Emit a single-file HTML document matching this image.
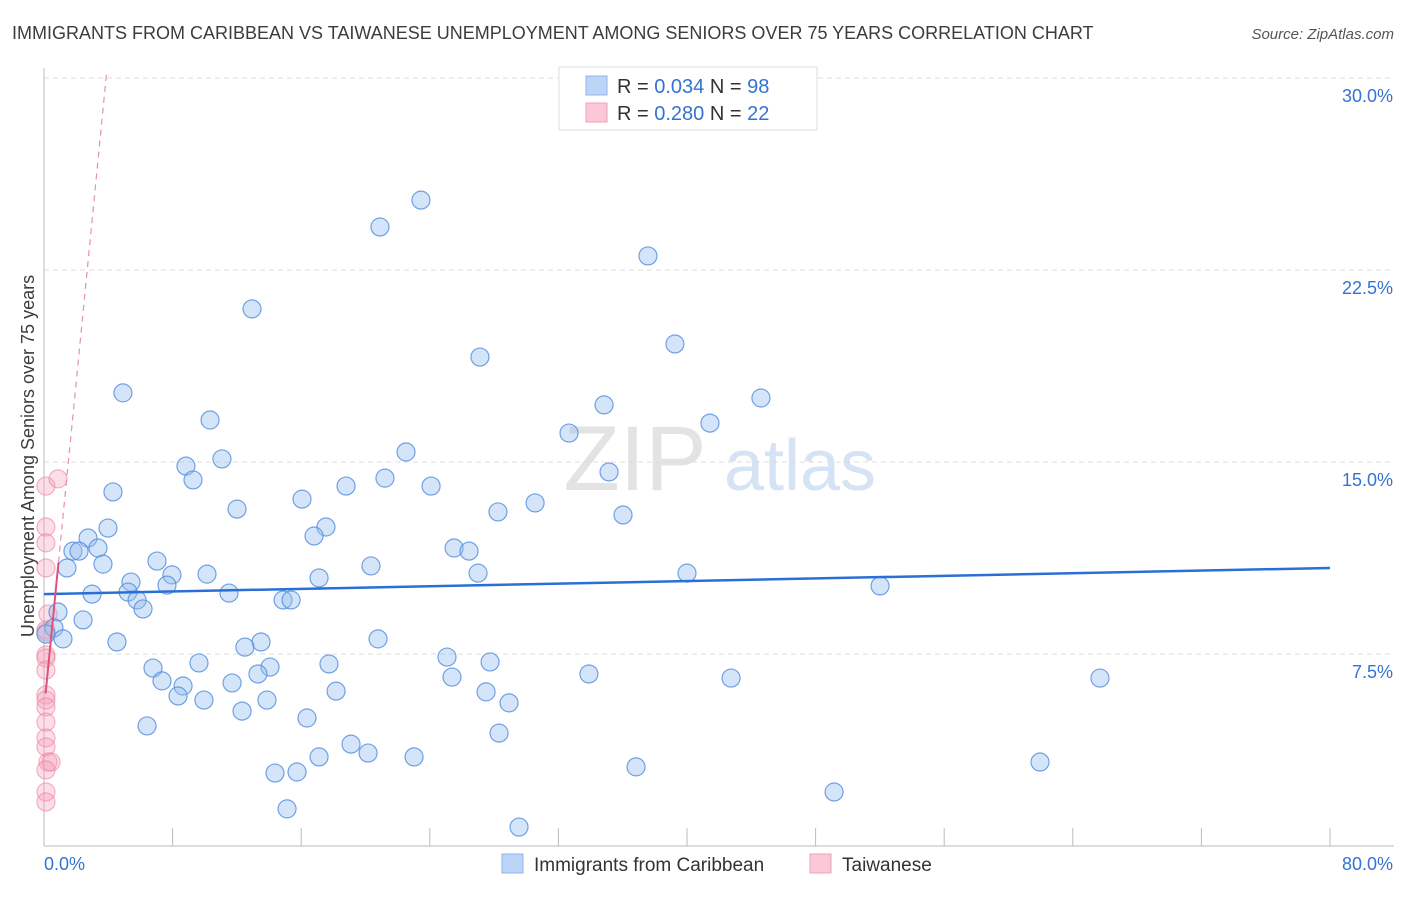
<!DOCTYPE html>
<html><head><meta charset="utf-8"><style>
body{margin:0;background:#fff;font-family:"Liberation Sans",sans-serif;}
svg text{font-family:"Liberation Sans",sans-serif;}
</style></head><body>
<svg id="chart" width="1406" height="892" viewBox="0 0 1406 892" xmlns="http://www.w3.org/2000/svg">
<text x="12" y="39" font-size="18" fill="#3c3c3c">IMMIGRANTS FROM CARIBBEAN VS TAIWANESE UNEMPLOYMENT AMONG SENIORS OVER 75 YEARS CORRELATION CHART</text>
<text x="1394" y="39" font-size="15" fill="#555" text-anchor="end" font-style="italic">Source: ZipAtlas.com</text>
<g>
<text x="635" y="490" font-size="92" fill="#e3e3e3" text-anchor="middle" font-family="Liberation Serif,serif">ZIP</text>
<text x="800" y="490" font-size="72" fill="#d5e3f5" text-anchor="middle">atlas</text>
</g>
<g id="grid"></g>
<g id="yticks"></g>
<g id="xaxis"></g>
<text transform="translate(34,456) rotate(-90)" font-size="18" fill="#3c3c3c" text-anchor="middle">Unemployment Among Seniors over 75 years</text>
<g id="pts"></g>
<g id="trends"></g>
<g>
<rect x="559" y="67" width="258" height="63" fill="#fff" stroke="#ddd"/>
<rect x="586" y="76" width="21" height="19" fill="#bcd4f5" stroke="#8fb4ea"/>
<rect x="586" y="103" width="21" height="19" fill="#fac8d6" stroke="#f1a0b8"/>
<text x="617" y="93" font-size="20" fill="#333">R = <tspan fill="#3573d2">0.034</tspan>   N = <tspan fill="#3573d2">98</tspan></text>
<text x="617" y="120" font-size="20" fill="#333">R = <tspan fill="#3573d2">0.280</tspan>   N = <tspan fill="#3573d2">22</tspan></text>
</g>
<g>
<rect x="502" y="854" width="21" height="19" fill="#bcd4f5" stroke="#8fb4ea"/>
<text x="534" y="871" font-size="19" fill="#333">Immigrants from Caribbean</text>
<rect x="810" y="854" width="21" height="19" fill="#fac8d6" stroke="#f1a0b8"/>
<text x="842" y="871" font-size="19" fill="#333">Taiwanese</text>
</g>
</svg>
<script>
const yTicks=[7.5,15,22.5,30];
const yTickLabels=["7.5%","15.0%","22.5%","30.0%"];
const xTickLabels=["0.0%","80.0%"];
const blueX=[23.45,20.90,37.57,12.94,39.25,27.12,4.91,44.60,34.84,10.33,41.43,32.66,22.52,11.07,8.83,35.15,21.21,9.27,4.29,18.79,24.08,16.05,30.55,28.24,12.01,36.02,3.98,17.54,16.80,2.74,1.80,2.18,3.36,25.51,26.44,7.03,3.67,1.43,20.34,7.96,10.14,27.00,40.00,17.11,5.41,7.65,52.01,2.99,5.23,11.51,5.79,14.87,15.37,6.16,0.87,2.43,0.62,0.12,1.18,4.54,13.50,20.78,12.50,25.07,6.78,9.64,14.06,17.73,27.75,13.31,33.90,42.74,65.69,7.34,25.38,11.70,8.65,18.17,8.34,27.50,9.95,13.87,28.93,12.32,16.36,6.41,28.31,19.10,20.16,17.11,23.02,14.37,15.74,36.83,61.96,49.15,15.12,29.55];
const blueY=[25.23,24.18,23.05,20.98,19.61,19.10,17.70,17.50,17.23,16.64,16.52,16.13,15.39,15.12,14.84,14.61,14.37,14.30,13.83,14.06,14.06,13.55,13.40,13.05,13.16,12.93,12.42,12.46,12.11,12.03,11.52,11.52,11.64,11.64,11.52,11.13,11.01,10.86,10.94,10.59,10.62,10.66,10.66,10.47,10.31,10.19,10.16,9.84,9.92,9.88,9.61,9.61,9.61,9.26,9.14,8.83,8.52,8.28,8.09,7.97,7.97,8.09,7.77,7.38,6.95,7.15,6.99,7.11,7.19,6.72,6.72,6.56,6.56,6.45,6.60,6.37,6.25,6.05,5.86,6.02,5.70,5.70,5.59,5.27,5.00,4.69,4.41,3.98,3.63,3.48,3.48,2.85,2.89,3.09,3.28,2.11,1.45,0.74];
const pinkX=[0.12,0.87,0.12,0.12,0.12,0.25,0.12,0.12,0.12,0.12,0.12,0.12,0.12,0.12,0.12,0.12,0.25,0.44,0.12,0.12,0.12,0.12];
const pinkY=[14.06,14.34,12.46,11.84,10.86,9.06,8.36,7.46,7.34,6.87,5.90,5.70,5.43,4.84,4.22,3.87,3.28,3.28,2.97,2.11,1.72,8.44];
const blueTrend=[9.84,10.86];
const pinkTrend=[5.32,6.39];
const X=v=>44+v/80*1286, Y=v=>846-v*25.6;
const NS="http://www.w3.org/2000/svg";
function mk(t,a,p){const e=document.createElementNS(NS,t);for(const k in a)e.setAttribute(k,a[k]);p.appendChild(e);return e;}
const grid=document.getElementById('grid'),yt=document.getElementById('yticks'),xa=document.getElementById('xaxis');
yTicks.forEach((v,i)=>{
 const l=mk('line',{x1:44,x2:1394,y1:Y(v),y2:Y(v),stroke:'#ddd','stroke-dasharray':'5,4'},grid);
 
 
 const t=mk('text',{x:1393,y:Y(v)+24,'font-size':18,fill:'#3573d2','text-anchor':'end'},yt);
 t.textContent=yTickLabels[i];
 
 
});
mk('line',{x1:44,x2:44,y1:68,y2:846,stroke:'#bbb'},xa);
mk('line',{x1:44,x2:1394,y1:846,y2:846,stroke:'#bbb'},xa);
for(let i=0;i<=10;i++){mk('line',{x1:X(i*8),x2:X(i*8),y1:828,y2:846,stroke:'#bbb'},xa);}
const xl0=mk('text',{x:44,y:870,'font-size':18,fill:'#3573d2'},xa);xl0.textContent=xTickLabels[0];


const xl1=mk('text',{x:1393,y:870,'font-size':18,fill:'#3573d2','text-anchor':'end'},xa);xl1.textContent=xTickLabels[1];


const pts=document.getElementById('pts');
pinkX.forEach((x,i)=>{const c=mk('circle',{cx:X(x),cy:Y(pinkY[i]),r:9,fill:'rgba(245,160,185,0.35)',stroke:'rgba(235,130,160,0.6)','stroke-width':1.2},pts);
 
 });
blueX.forEach((x,i)=>{const c=mk('circle',{cx:X(x),cy:Y(blueY[i]),r:9,fill:'rgba(150,190,240,0.4)',stroke:'rgba(80,140,220,0.8)','stroke-width':1.2},pts);
 
 });
const tr=document.getElementById('trends');
const bl=mk('line',{x1:X(0),y1:Y(blueTrend[0]),x2:X(80),y2:Y(blueTrend[1]),stroke:'#2a6fd6','stroke-width':2.5},tr);


const pf=x=>pinkTrend[0]+pinkTrend[1]*x;
const xEnd=(30.3-pinkTrend[0])/pinkTrend[1];
const pd=mk('line',{x1:X(0.9),y1:Y(pf(0.9)),x2:X(xEnd),y2:Y(pf(xEnd)),stroke:'#e890a8','stroke-width':1.2,'stroke-dasharray':'6,5'},tr);


const ps=mk('line',{x1:X(0.1),y1:Y(pf(0.1)),x2:X(0.9),y2:Y(pf(0.9)),stroke:'#e0507a','stroke-width':2},tr);


</script>
</body></html>
